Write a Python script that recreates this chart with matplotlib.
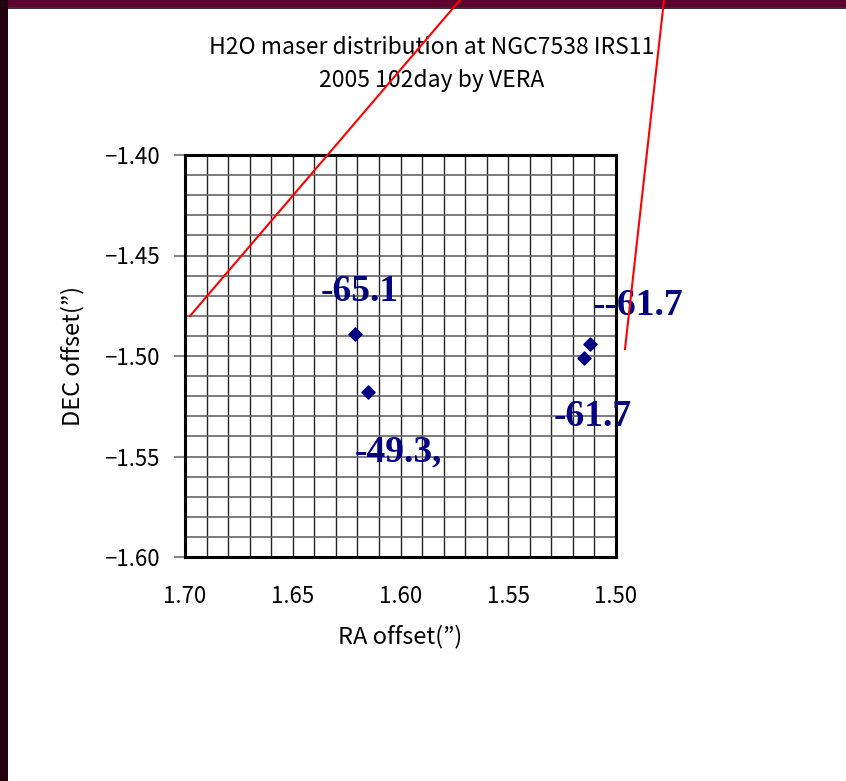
import matplotlib
matplotlib.use("Agg")
import matplotlib.pyplot as plt
from matplotlib.patches import Rectangle
from matplotlib.lines import Line2D

# maser spots (RA offset, DEC offset) and their velocity labels
ra = [1.621, 1.615, 1.515, 1.512]
dec = [-1.489, -1.518, -1.501, -1.494]

labels = ["-65.1", "-49.3,", "-61.7", "--61.7"]
label_ra = [1.619, 1.601, 1.511, 1.490]
label_dec = [-1.466, -1.546, -1.528, -1.473]

xticks = [1.70, 1.65, 1.60, 1.55, 1.50]
yticks = [-1.40, -1.45, -1.50, -1.55, -1.60]

plt.rcParams['font.family'] = ['Noto Sans CJK JP', 'DejaVu Sans']

fig = plt.figure(figsize=(8.46, 7.81), dpi=100)
fig.patch.set_facecolor('white')

# slide frame: maroon band on top, dark strip on the left
fig.patches.append(Rectangle((0, 1 - 7 / 781), 1, 7 / 781, transform=fig.transFigure,
                             facecolor='#5c0030', edgecolor='none', zorder=0))
fig.lines.append(Line2D([0, 1], [1 - 7.5 / 781, 1 - 7.5 / 781], transform=fig.transFigure,
                        color='#1a0010', lw=1.2))
fig.patches.append(Rectangle((0, 0), 8 / 846, 1, transform=fig.transFigure,
                             facecolor='#22000f', edgecolor='none', zorder=0))

ax = fig.add_axes([185 / 846, 1 - 557 / 781, 431 / 846, 402 / 781])
ax.scatter(ra, dec, marker='D', s=45, color='#000080', zorder=3)
for t, x, y in zip(labels, label_ra, label_dec):
    ax.text(x, y, t, color='#000080', fontsize=27, fontweight='bold',
            fontfamily='Liberation Serif', ha='center', va='center_baseline', zorder=4)

ax.set_xlim(1.70, 1.50)
ax.set_ylim(-1.60, -1.40)
ax.set_xticks(xticks)
ax.set_yticks(yticks)
ax.set_xticklabels(['%.2f' % v for v in xticks])
ax.set_yticklabels(['\u2212%.2f' % abs(v) for v in yticks])
ax.set_xticks([1.70 - 0.01 * i for i in range(21)], minor=True)
ax.set_yticks([-1.40 - 0.01 * i for i in range(21)], minor=True)
ax.xaxis.grid(True, which='both', color='#222222', lw=1.0)
ax.yaxis.grid(True, which='both', color='#666666', lw=1.2)
ax.set_axisbelow(True)
ax.tick_params(axis='x', which='both', length=0, labelsize=16, pad=20)
ax.tick_params(axis='y', which='major', length=8, color='#888888', width=1.5,
               labelsize=16, pad=10)
ax.tick_params(axis='y', which='minor', length=0)
for s in ax.spines.values():
    s.set_linewidth(2.2)
    s.set_color('black')

ax.set_xlabel('RA offset(\u201d)', fontsize=17, labelpad=12)
ax.set_ylabel('DEC offset(\u201d)', fontsize=17, labelpad=14)

fig.text(432 / 846, 1 - 47 / 781, 'H2O maser distribution at NGC7538 IRS11',
         ha='center', va='center', fontsize=16.5)
fig.text(432 / 846, 1 - 80 / 781, '2005 102day by VERA',
         ha='center', va='center', fontsize=16.5)

# red pointer lines running off the top of the slide
fig.lines.append(Line2D([190 / 846, 460 / 846], [1 - 316 / 781, 1.0],
                        transform=fig.transFigure, color='red', lw=1.5, zorder=5))
fig.lines.append(Line2D([625 / 846, 664 / 846], [1 - 349 / 781, 1.0],
                        transform=fig.transFigure, color='red', lw=1.5, zorder=5))

fig.savefig('out.png', dpi=100)
